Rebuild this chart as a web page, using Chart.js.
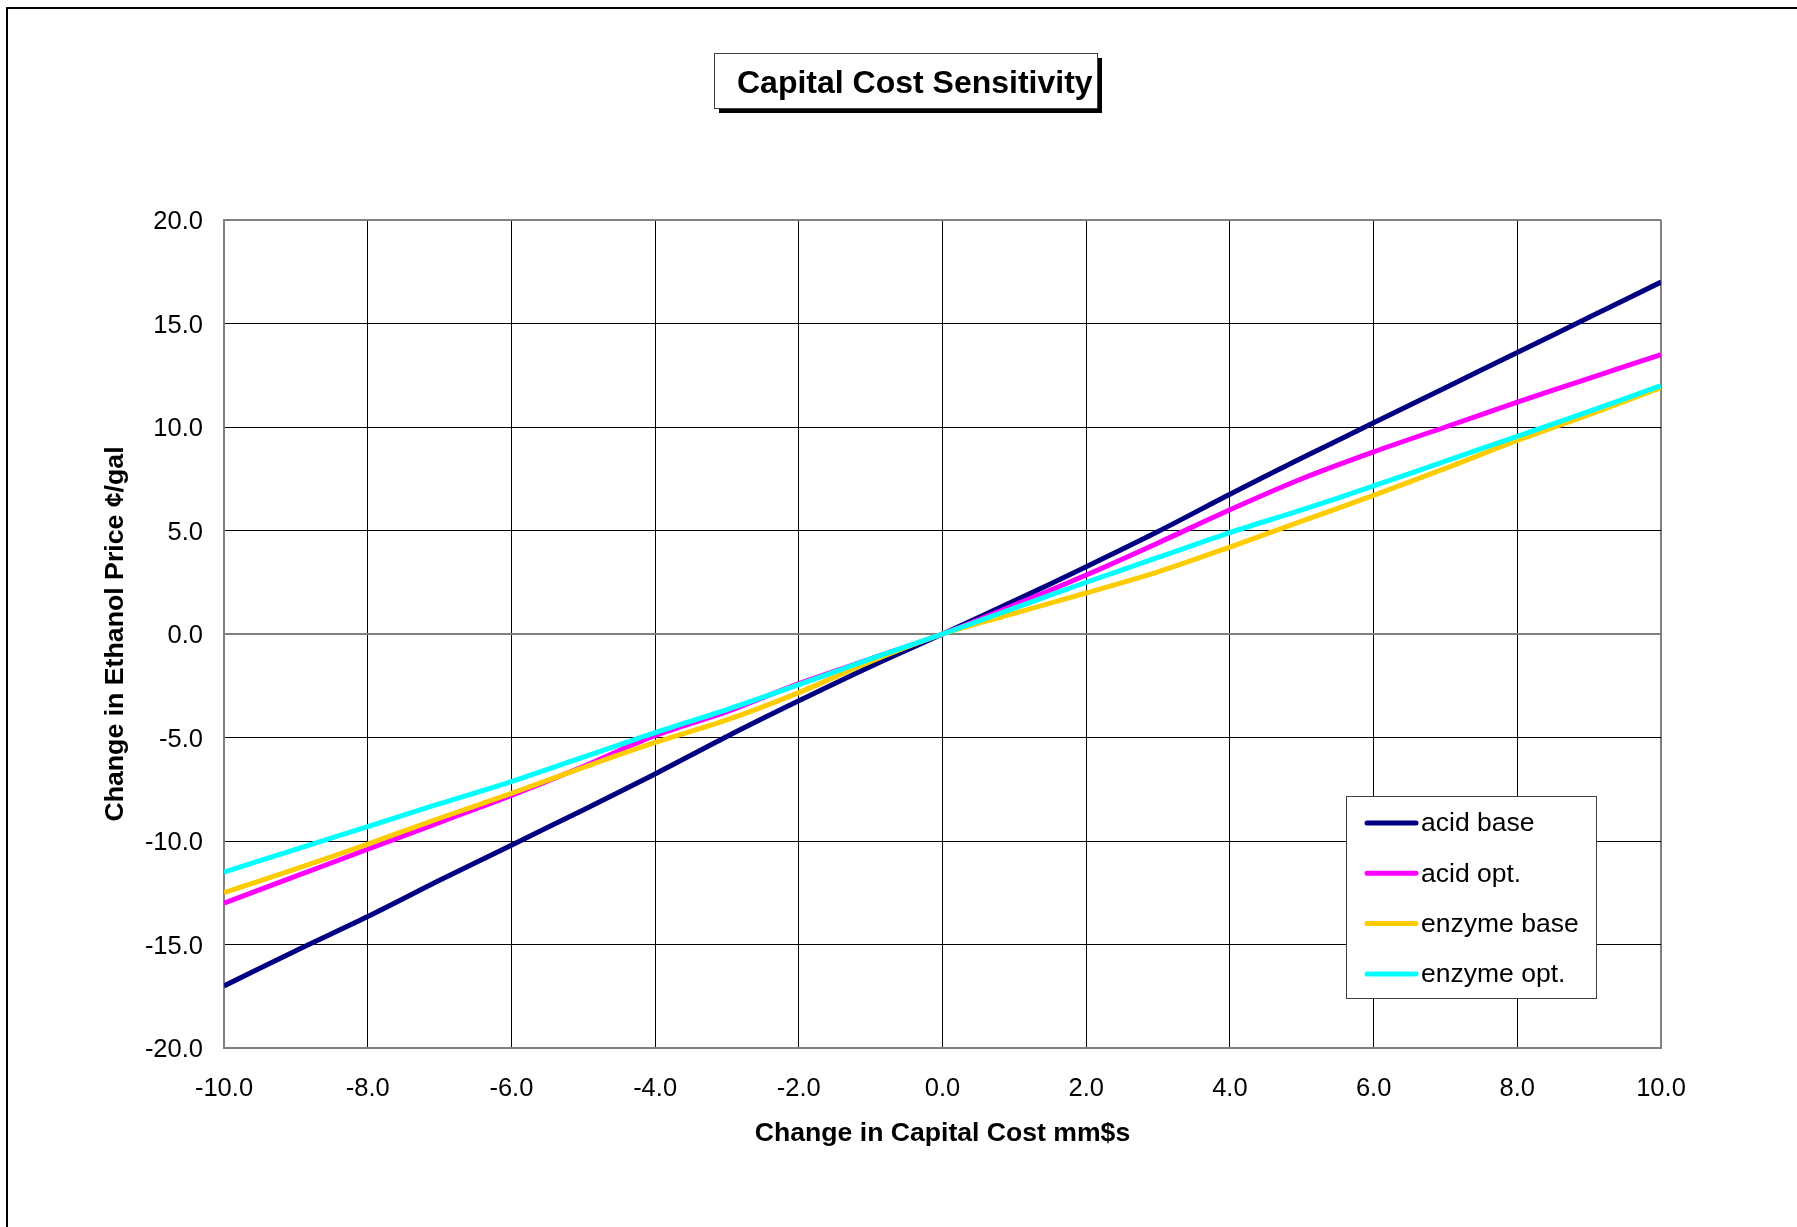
<!DOCTYPE html>
<html>
<head>
<meta charset="utf-8">
<script src="https://cdn.jsdelivr.net/npm/chart.js@4.4.1/dist/chart.umd.min.js"></script>
<style>
html,body{margin:0;padding:0;background:#fff;overflow:hidden;}
canvas{display:block;}
</style>
</head>
<body>
<canvas id="c" width="1797" height="1227"></canvas>
<script>
// ---- data ----
const xValues = [-10,-9,-8,-7,-6,-5,-4,-3,-2,-1,0,1,2,3,4,5,6,7,8,9,10];
const acidBase   = [-17.0,-15.3,-13.65,-11.9,-10.2,-8.5,-6.76,-4.95,-3.23,-1.57,0,1.6,3.25,4.95,6.75,8.5,10.2,11.9,13.6,15.3,17.0];
const acidOpt    = [-13.0,-11.7,-10.4,-9.1,-7.8,-6.4,-4.9,-3.75,-2.4,-1.2,0,1.4,2.85,4.4,6.0,7.5,8.8,10.0,11.2,12.35,13.5];
const enzymeBase = [-12.5,-11.35,-10.15,-8.9,-7.7,-6.45,-5.24,-4.15,-2.83,-1.33,0,1.0,1.98,3.0,4.2,5.45,6.7,8.0,9.35,10.6,11.9];
const enzymeOpt  = [-11.5,-10.4,-9.3,-8.2,-7.13,-5.95,-4.76,-3.65,-2.45,-1.2,0,1.25,2.5,3.7,4.9,6.0,7.15,8.35,9.55,10.75,12.0];
const seriesNames = ['acid base','acid opt.','enzyme base','enzyme opt.'];
const seriesColors = ['#000080','#FF00FF','#FFCC00','#00FFFF'];
const xTickMin = -10, xTickMax = 10, xTickStep = 2;
const yTickMin = -20, yTickMax = 20, yTickStep = 5;
const chartTitle = 'Capital Cost Sensitivity';
const xTitle = 'Change in Capital Cost mm$s';
const yTitle = 'Change in Ethanol Price \u00A2/gal';

const FONT = '"Liberation Sans", Arial, Helvetica, sans-serif';
const seriesValues = [acidBase, acidOpt, enzymeBase, enzymeOpt];

const datasets = seriesValues.map((vals, i) => ({
  label: seriesNames[i],
  data: xValues.map((x, j) => ({x: x, y: vals[j]})),
  borderColor: seriesColors[i],
  backgroundColor: seriesColors[i],
  borderWidth: 5,
  pointRadius: 0,
  pointHoverRadius: 0,
  tension: 0.3,
  fill: false,
  order: seriesValues.length - i
}));

const decor = {
  id: 'decor',
  beforeDraw(chart) {
    const ctx = chart.ctx;
    ctx.save();
    ctx.fillStyle = '#fff';
    ctx.fillRect(0, 0, chart.width, chart.height);
    ctx.strokeStyle = '#000';
    ctx.lineWidth = 2;
    ctx.beginPath();
    ctx.moveTo(7, chart.height + 5);
    ctx.lineTo(7, 8);
    ctx.lineTo(chart.width + 5, 8);
    ctx.stroke();
    ctx.restore();
  },
  afterDraw(chart) {
    const ctx = chart.ctx;
    ctx.save();
    // title box with shadow
    const bx = 714, by = 53, bw = 383, bh = 55;
    ctx.fillStyle = '#000';
    ctx.fillRect(bx + 5, by + 5, bw, bh);
    ctx.fillStyle = '#fff';
    ctx.fillRect(bx, by, bw, bh);
    ctx.strokeStyle = '#404040';
    ctx.lineWidth = 1;
    ctx.strokeRect(bx + 0.5, by + 0.5, bw, bh);
    ctx.fillStyle = '#000';
    ctx.font = 'bold 32px ' + FONT;
    ctx.textAlign = 'left';
    ctx.textBaseline = 'alphabetic';
    ctx.fillText(chartTitle, 737, 93);

    // legend
    const lx = 1346, ly = 796, lw = 250, lh = 202;
    ctx.fillStyle = '#fff';
    ctx.fillRect(lx, ly, lw, lh);
    ctx.strokeStyle = '#404040';
    ctx.lineWidth = 1;
    ctx.strokeRect(lx + 0.5, ly + 0.5, lw, lh);
    ctx.font = '26.5px ' + FONT;
    ctx.textBaseline = 'middle';
    chart.data.datasets.forEach((ds, i) => {
      const cy = 823 + i * 50.3;
      ctx.strokeStyle = ds.borderColor;
      ctx.lineWidth = 5;
      ctx.lineCap = 'round';
      ctx.beginPath();
      ctx.moveTo(1367, cy);
      ctx.lineTo(1416, cy);
      ctx.stroke();
      ctx.fillStyle = '#000';
      ctx.fillText(ds.label, 1421, cy + 1);
    });
    ctx.restore();
  }
};

const edgeGray = '#808080';
new Chart(document.getElementById('c'), {
  type: 'line',
  data: { datasets: datasets },
  plugins: [decor],
  options: {
    responsive: false,
    devicePixelRatio: 1,
    animation: false,
    events: [],
    layout: { padding: { left: 0, right: 136, top: 220, bottom: 0 } },
    plugins: {
      legend: { display: false },
      title: { display: false },
      tooltip: { enabled: false }
    },
    scales: {
      x: {
        type: 'linear',
        min: xTickMin, max: xTickMax,
        afterFit(scale) { scale.height = 179; },
        ticks: {
          stepSize: xTickStep,
          color: '#000',
          font: { family: FONT, size: 25.5, lineHeight: 1 },
          padding: 28,
          maxRotation: 0,
          autoSkip: false,
          callback: (v) => Number(v).toFixed(1)
        },
        grid: {
          drawTicks: false,
          tickLength: 0,
          color: (c) => (c.tick && (c.tick.value === xTickMin || c.tick.value === xTickMax)) ? edgeGray : '#000',
          lineWidth: (c) => (c.tick && (c.tick.value === xTickMin || c.tick.value === xTickMax)) ? 2 : 1
        },
        border: { display: true, color: edgeGray, width: 2 },
        title: {
          display: true, text: xTitle, color: '#000',
          font: { family: FONT, size: 26.6, weight: 'bold', lineHeight: 1 },
          padding: { top: 0, bottom: 80 }
        }
      },
      y: {
        type: 'linear',
        min: yTickMin, max: yTickMax,
        afterFit(scale) { scale.width = 224; },
        ticks: {
          stepSize: yTickStep,
          color: '#000',
          font: { family: FONT, size: 25.5, lineHeight: 1 },
          padding: 21,
          labelOffset: 2,
          autoSkip: false,
          callback: (v) => Number(v).toFixed(1)
        },
        grid: {
          drawTicks: false,
          tickLength: 0,
          color: (c) => (c.tick && (c.tick.value === 0 || c.tick.value === yTickMin || c.tick.value === yTickMax)) ? edgeGray : '#000',
          lineWidth: (c) => (c.tick && (c.tick.value === 0 || c.tick.value === yTickMin || c.tick.value === yTickMax)) ? 2 : 1
        },
        border: { display: true, color: edgeGray, width: 2 },
        title: {
          display: true, text: yTitle, color: '#000',
          font: { family: FONT, size: 26.7, weight: 'bold', lineHeight: 1 },
          padding: { top: 102, bottom: 0 }
        }
      }
    }
  }
});
</script>
</body>
</html>
